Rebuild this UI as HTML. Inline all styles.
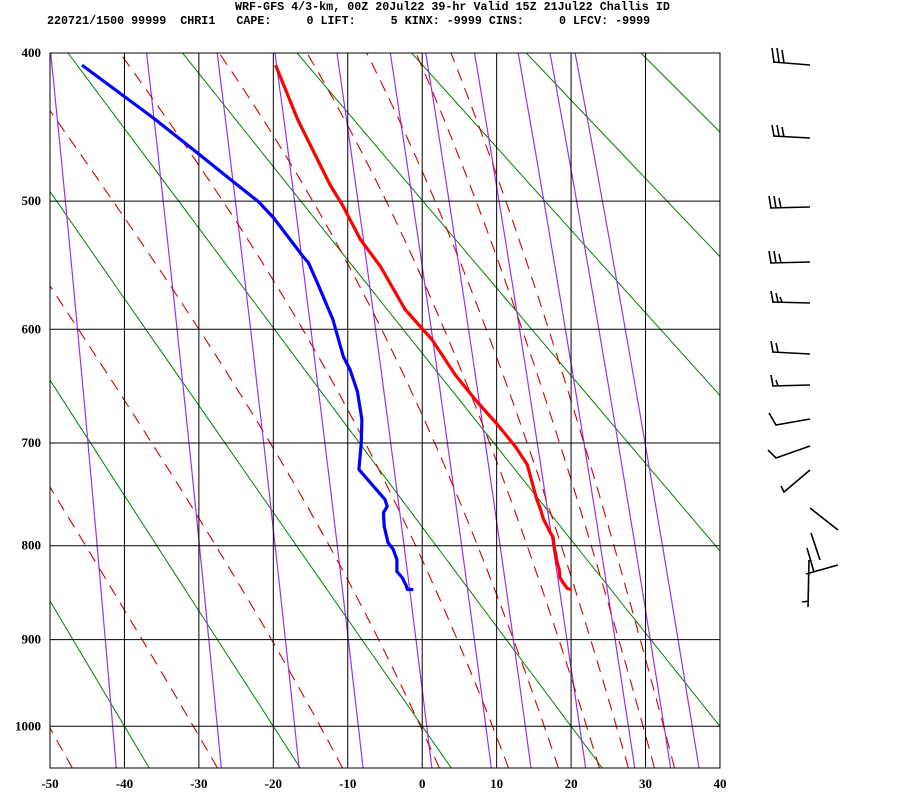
<!DOCTYPE html>
<html><head><meta charset="utf-8"><style>
html,body{margin:0;padding:0;background:#fff;}
#wrap{position:relative;width:900px;height:800px;overflow:hidden;font-family:"Liberation Mono",monospace;}
.hdr{position:absolute;font-family:"Liberation Mono",monospace;font-weight:bold;font-size:11.7px;white-space:pre;color:#000;line-height:12px;}
svg text{font-family:"Liberation Serif",serif;font-weight:bold;font-size:13px;fill:#000;}
</style></head><body>
<div id="wrap">
<div class="hdr" style="left:235px;top:1px;">WRF-GFS 4/3-km, 00Z 20Jul22 39-hr Valid 15Z 21Jul22 Challis ID</div>
<div class="hdr" style="left:47px;top:15px;">220721/1500 99999  CHRI1   CAPE:     0 LIFT:     5 KINX: -9999 CINS:     0 LFCV: -9999</div>
<svg id="chart" width="900" height="800" style="position:absolute;left:0;top:0;">
<defs><clipPath id="clip"><rect x="50" y="53" width="670" height="715"/></clipPath></defs>
<g id="bg" clip-path="url(#clip)"></g>
<g id="grid"></g>
<g id="prof" clip-path="url(#clip)"></g>
<g id="labels"></g>
<g id="barbs" stroke="#000" stroke-width="1.6" fill="none">
<path d="M773 62 L810 65 M772 48 L774 62 M777 48 L779 62 M782 50 L784 63"/>
<path d="M773 136 L810 138 M772 125 L774 136 M777 125 L779 136 M782 127 L784 137"/>
<path d="M770 208 L810 207 M769 196 L771 208 M774 196 L776 208 M779 198 L781 208"/>
<path d="M770 263 L810 262 M769 251 L771 263 M774 251 L776 263 M779 254 L781 263"/>
<path d="M772 302 L810 303 M771 291 L773 302 M776 293 L778 302 M780 297 L782 302"/>
<path d="M772 352 L810 354 M771 341 L773 352 M776 343 L778 352"/>
<path d="M772 386 L810 385 M771 375 L773 386 M776 380 L778 386"/>
<path d="M769 413 L776 425 L810 419"/>
<path d="M768 450 L776 458 L810 446"/>
<path d="M781 486 L784 492 L810 470"/>
<path d="M810 508 L838 530"/>
<path d="M811 533 L820 560 M807 548 L814 572 M806 574 L838 565 M809 560 L808 607 M802 602 L809 601"/>
</g>
</svg>
</div>
<script>
// ---- data ----
const pressureTicks = [400,500,600,700,800,900,1000];
const tempTicks = [-50,-40,-30,-20,-10,0,10,20,30,40];
const dryThetas = [233.15,253.15,273.15,293.15,313.15,333.15,353.15,373.15,393.15,413.15];
const mixRatios = [0.1,0.4,1,2,4,7,10,16,24,32,40];
const moistStartTemps = [-47,-27.5,-10.7,2.3,11.6,18.3,23.8,27.7,31.2,33.9];
const tempPres = [845.6,844.5,838.2,832.9,824.5,816.2,806.9,800.8,791.6,786.6,780.5,773.5,763.6,753.8,720.1,703.2,682.9,660.4,638.4,608.5,583.7,549.4,528.6,504,488,443.3,407.6];
const tempVals = [20.0,19.5,18.9,18.5,18.4,18.1,17.9,17.7,17.6,17.2,16.8,16.3,15.9,15.4,14.1,12.5,10.1,7.1,4.4,1.3,-2.3,-5.6,-8.3,-10.6,-12.4,-16.7,-19.7];
const dewPres = [845.6,845.6,842.4,832.9,826.6,814.1,803.8,796.7,780.5,766.6,760.7,753.8,724.8,700.4,678.4,653.3,634.1,622.9,591.9,562,546.3,541.6,512.1,500.4,485.9,465.7,442,428.1,407.6];
const dewVals = [-1.2,-2.0,-2.1,-2.7,-3.4,-3.4,-3.9,-4.6,-5.1,-5.2,-4.7,-5.0,-8.5,-8.2,-8.1,-8.7,-9.7,-10.6,-12.0,-14.1,-15.3,-16.0,-20.0,-22.0,-25.4,-30.2,-36.1,-39.9,-45.7];

// ---- axes ----
const K=0.286, P0K=Math.pow(400,K);
function xOf(t){return 50+(t+50)*7.444;}
function yOf(p){return 53+405*(Math.pow(p,K)-P0K);}
const PBOT=Math.pow(P0K+715/405,1/K);
const NS='http://www.w3.org/2000/svg';
function mk(tag,attrs,parent){const e=document.createElementNS(NS,tag);for(const k in attrs)e.setAttribute(k,attrs[k]);parent.appendChild(e);return e;}
function ptsStr(arr){return arr.map(a=>a[0].toFixed(1)+','+a[1].toFixed(1)).join(' ');}
const bg=document.getElementById('bg'),grid=document.getElementById('grid'),prof=document.getElementById('prof'),labels=document.getElementById('labels');

// dry adiabats (green)
dryThetas.forEach(th=>{
  const pts=[];
  for(let p=380;p<=PBOT+10;p+=10){pts.push([xOf(th*Math.pow(p/1000,K)-273.15),yOf(p)]);}
  const l=mk('polyline',{points:ptsStr(pts),fill:'none',stroke:'#008000','stroke-width':1},bg);
  
  
});
// mixing ratio lines (purple)
mixRatios.forEach(w=>{
  const pts=[];
  for(let p=380;p<=PBOT+10;p+=10){
    const es=w*p/(622+w);const L=Math.log(es/6.112);
    const t=243.5*L/(17.67-L);pts.push([xOf(t),yOf(p)]);
  }
  const l=mk('polyline',{points:ptsStr(pts),fill:'none',stroke:'#9b30f0','stroke-width':1.2},bg);
  
  
});
// moist adiabats (red dashed)
function esat(tc){return 6.112*Math.exp(17.67*tc/(tc+243.5));}
moistStartTemps.forEach(t0=>{
  let T=t0+273.15,p=PBOT;const pts=[[xOf(t0),yOf(p)]];
  const Rd=287,cp=1005,Lv=2.5e6,eps=0.622;
  while(p>380){
    const dp=-2;
    const es=esat(T-273.15);const rs=eps*es/(p-es);
    const dTdp=(Rd*T+Lv*rs)/(p*(cp+Lv*Lv*rs*eps/(Rd*T*T)));
    T+=dTdp*dp;p+=dp;
    pts.push([xOf(T-273.15),yOf(p)]);
  }
  const l=mk('polyline',{points:ptsStr(pts),fill:'none',stroke:'#d00000','stroke-width':1.1,'stroke-dasharray':'12,8'},bg);
  
  
});
// grid
tempTicks.forEach(t=>{
  const l=mk('line',{x1:xOf(t),y1:53,x2:xOf(t),y2:768,stroke:'#000','stroke-width':1},grid);
  
  
  const tx=mk('text',{x:xOf(t),y:788,'text-anchor':'middle'},labels);tx.textContent=t;
  
  
});
pressureTicks.forEach(p=>{
  const y=yOf(p);
  const l=mk('line',{x1:50,y1:y,x2:720,y2:y,stroke:'#000','stroke-width':1},grid);
  
  
  const tx=mk('text',{x:41,y:y+4,'text-anchor':'end'},labels);tx.textContent=p;
  
  
});
const fr=mk('rect',{x:50,y:53,width:670,height:715,fill:'none',stroke:'#000','stroke-width':1},grid);


// profiles
const tp=tempPres.map((p,i)=>[xOf(tempVals[i]),yOf(p)]);
const tl=mk('polyline',{points:ptsStr(tp),fill:'none',stroke:'#ff0000','stroke-width':3.2,'stroke-linejoin':'round'},prof);


const dp=dewPres.map((p,i)=>[xOf(dewVals[i]),yOf(p)]);
const dl=mk('polyline',{points:ptsStr(dp),fill:'none',stroke:'#0000ff','stroke-width':3.2,'stroke-linejoin':'round'},prof);


</script>
</body></html>
